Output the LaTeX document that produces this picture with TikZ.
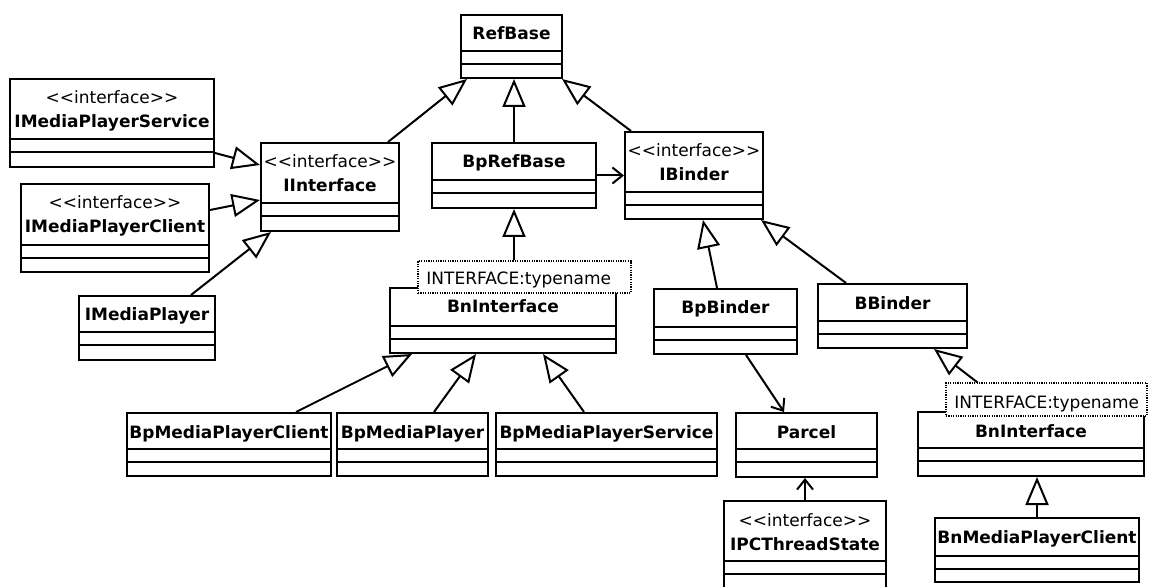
\documentclass[tikz,border=0pt]{standalone}
\usepackage{fontspec}
\setmainfont{DejaVu Sans}
\usetikzlibrary{arrows.meta,fit,calc}
\tikzset{
  classbox/.style={draw, line width=1pt, fill=white, inner sep=0pt},
  sepline/.style={line width=1pt},
  classtext/.style={font=\fontsize{8.5}{12}\selectfont, align=center, inner sep=0pt},
  tmpltext/.style={font=\fontsize{8.5}{12}\selectfont, inner sep=0pt},
  tmplbox/.style={draw, line width=0.6pt, dash pattern=on 0.6pt off 0.6pt, fill=white, inner sep=0pt},
  gen/.style={line width=1pt, -{Triangle[open, length=14pt, width=11.5pt, line width=1pt]}},
  assoc/.style={line width=1pt, -{Straight Barb[length=5pt, width=8pt, line width=1pt]}},
}
\newcommand\stereo{<\kern0pt<interface>\kern0pt>}
% #1 name, #2 x1, #3 y1, #4 x2, #5 y2, #6 first separator, #7 baseline offset of last line, #8 text
\newcommand\umlclass[8]{%
  \node[classbox, fit={(#2,#3) (#4,#5)}] (#1) {};
  \draw[sepline] (#2,#6) -- (#4,#6) (#2,#6+13) -- (#4,#6+13);
  \node[classtext, anchor=base] (#1-t) at ({(#2+#4)/2},#3+#7) {#8};
}
\begin{document}
\begin{tikzpicture}[x=0.5pt,y=-0.5pt]
\useasboundingbox (0,0) rectangle (1149,587);
\clip (0,0) rectangle (1149,587);
\fill[white] (0,0) rectangle (1149,587);

\umlclass{RefBase}{461}{15}{562}{78}{51}{25}{\textbf{RefBase}}
\umlclass{IMPS}{10}{79}{214}{167}{139}{49}{\stereo\\\textbf{IMediaPlayerService}}
\umlclass{IInterface}{261}{143}{399}{231}{203}{49}{\stereo\\\textbf{IInterface}}
\umlclass{IMPC}{21}{184}{209}{272}{245}{49}{\stereo\\\textbf{IMediaPlayerClient}}
\umlclass{IMP}{79}{296}{215}{360}{332}{25}{\textbf{IMediaPlayer}}
\umlclass{BpRefBase}{432}{143}{596}{208}{180}{25}{\textbf{BpRefBase}}
\umlclass{IBinder}{625}{132}{763}{219}{192}{49}{\stereo\\\textbf{IBinder}}
\umlclass{BnL}{390}{288}{616}{353}{326}{25}{\textbf{BnInterface}}
\umlclass{BpBinder}{654}{289}{797}{354}{327}{25}{\textbf{BpBinder}}
\umlclass{BBinder}{818}{284}{967}{348}{321}{25}{\textbf{BBinder}}
\umlclass{BpMPC}{127}{413}{331}{476}{449}{25}{\textbf{BpMediaPlayerClient}}
\umlclass{BpMP}{337}{413}{488}{476}{449}{25}{\textbf{BpMediaPlayer}}
\umlclass{BpMPS}{496}{413}{717}{476}{449}{25}{\textbf{BpMediaPlayerService}}
\umlclass{Parcel}{736}{413}{877}{477}{449}{25}{\textbf{Parcel}}
\umlclass{BnR}{918}{412}{1144}{476}{448}{25}{\textbf{BnInterface}}
\umlclass{IPC}{724}{501}{886}{600}{561}{49}{\stereo\\\textbf{IPCThreadState}}
\umlclass{BnMPC}{935}{518}{1139}{582}{556}{25}{\textbf{BnMediaPlayerClient}}

% template parameter boxes
\node[tmplbox, fit={(418,261) (631,293)}] (TL) {};
\node[tmpltext, anchor=base west] (TL-t) at (426,285) {INTERFACE:typename};
\node[tmplbox, fit={(946,383) (1147,416)}] (TR) {};
\node[tmpltext, anchor=base west] (TR-t) at (954,408) {INTERFACE:typename};

% generalizations
\draw[gen] ($(IInterface.north east)+(-12,0)$) -- ($(RefBase.south west)+(7,0)$);
\draw[gen] (BpRefBase.north) -- (BpRefBase.north |- RefBase.south);
\draw[gen] ($(IBinder.north west)+(7,0)$) -- ($(RefBase.south east)+(-1,0)$);
\draw[gen] ($(IMPS.south east)+(0,-15)$) -- ($(IInterface.north west)+(0,23)$);
\draw[gen] ($(IMPC.north east)+(0,27)$) -- ($(IInterface.north west)+(0,58)$);
\draw[gen] ($(IMP.north east)+(-25,0)$) -- ($(IInterface.south west)+(11,0)$);
\draw[gen] (BpRefBase.south |- TL.north) -- (BpRefBase.south);
\draw[gen] ($(BpMPC.north east)+(-36,0)$) -- ($(BnL.south west)+(23,0)$);
\draw[gen] ($(BpMP.north west)+(98,0)$) -- ($(BnL.south west)+(87,0)$);
\draw[gen] ($(BpMPS.north west)+(89,0)$) -- ($(BnL.south west)+(154,0)$);
\draw[gen] ($(BpBinder.north west)+(64,0)$) -- ($(IBinder.south west)+(79,0)$);
\draw[gen] ($(BBinder.north west)+(29,0)$) -- ($(IBinder.south east)+(-3,0)$);
\draw[gen] ($(TR.north west)+(32,0)$) -- ($(BBinder.south west)+(117,0)$);
\draw[gen] (BnMPC.north) -- (BnMPC.north |- BnR.south);

% associations
\draw[assoc] (BpRefBase.east) -- (BpRefBase.east -| IBinder.west);
\draw[assoc] ($(BpBinder.south west)+(93,0)$) -- ($(Parcel.north west)+(49,0)$);
\draw[assoc] (IPC.north) -- (IPC.north |- Parcel.south);
\end{tikzpicture}
\end{document}
